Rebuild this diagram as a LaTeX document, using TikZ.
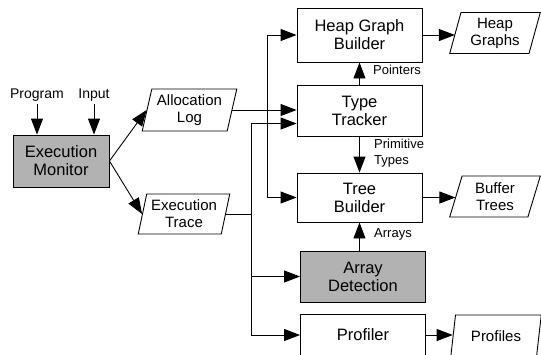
\documentclass[tikz,border=0pt]{standalone}
\usepackage{fontspec}
\setmainfont{Liberation Sans}
\usetikzlibrary{arrows.meta, shapes.geometric}

\begin{document}
\begin{tikzpicture}[x=1pt,y=-1pt,
  box/.style={draw,line width=0.9pt,minimum width=125pt,minimum height=51pt,align=center,inner sep=0pt,font=\fontsize{16.5}{18}\selectfont},
  grey/.style={fill=black!30},
  data/.style={draw,line width=0.9pt,trapezium,trapezium left angle=75,trapezium right angle=105,trapezium stretches=true,minimum width=91pt,minimum height=41pt,align=center,inner sep=0pt,font=\fontsize{15}{17}\selectfont},
  source/.style={inner sep=3pt,font=\fontsize{14}{16}\selectfont},
  lbl/.style={anchor=west,align=left,inner sep=0pt,font=\fontsize{13}{15.5}\selectfont},
  flow/.style={line width=0.9pt,-{Triangle[length=16pt,width=12pt]}}]
\useasboundingbox (0,0) rectangle (541,354);
%monitor and its inputs
\node[source] (prog) at (37,95) {Program};
\node[source] (inp) at (94,95) {Input};
\node[box,grey,minimum width=96pt,minimum height=52pt] (mon) at (61,161) {Execution\\Monitor};
\draw[flow] (prog.south) -- (prog.south |- mon.north);
\draw[flow] (inp.south) -- (inp.south |- mon.north);
%logs
\node[data,minimum width=95pt,minimum height=42pt] (alloc) at (189.5,110) {Allocation\\Log};
\node[data,minimum width=92pt,minimum height=40pt] (trace) at (184,214) {Execution\\Trace};
\draw[flow] (mon.east) -- (alloc.west);
\draw[flow] (mon.east) -- (trace.west);
%analysis boxes
\node[box,minimum height=54pt] (heap) at (359.5,35) {Heap Graph\\Builder};
\node[box] (type) at (359.5,110.5) {Type\\Tracker};
\node[box,minimum height=49pt] (tree) at (359.5,197.5) {Tree\\Builder};
\node[box,grey] (arr) at (363,276.5) {Array\\Detection};
\node[box,minimum height=42pt] (prof) at (363,335) {Profiler};
%outputs
\node[data] (hgr) at (495,33) {Heap\\Graphs};
\node[data] (btr) at (495,196.5) {Buffer\\Trees};
\node[data,minimum height=42pt] (pfs) at (496,336) {Profiles};
%buses from the logs
\coordinate (abus) at (267,0);
\coordinate (tbus) at (251,0);
\draw[flow] (alloc.east) -- (alloc.east -| type.west);
\draw[flow] (alloc.east -| abus) |- (heap.west);
\draw[flow] (alloc.east -| abus) |- (tree.west);
\draw[line width=0.9pt] (trace.east) -- (trace.east -| tbus);
\draw[flow] (trace.east -| tbus) |- ([yshift=-13pt]type.west);
\draw[flow] (trace.east -| tbus) |- (arr.west);
\draw[flow] (trace.east -| tbus) |- (prof.west);
%between the boxes
\draw[flow] (type.north) -- (heap.south);
\draw[flow] (type.south) -- (tree.north);
\draw[flow] (tree.south |- arr.north) -- (tree.south);
\node[lbl] (ptr) at (373,70) {Pointers};
\node[lbl] (prim) at (374,153) {Primitive\\Types};
\node[lbl] (ays) at (374,234) {Arrays};
%to the outputs
\draw[flow] (heap.east) -- (heap.east -| hgr.west);
\draw[flow] (tree.east) -- (tree.east -| btr.west);
\draw[flow] (prof.east) -- (prof.east -| pfs.west);
\end{tikzpicture}
\end{document}
